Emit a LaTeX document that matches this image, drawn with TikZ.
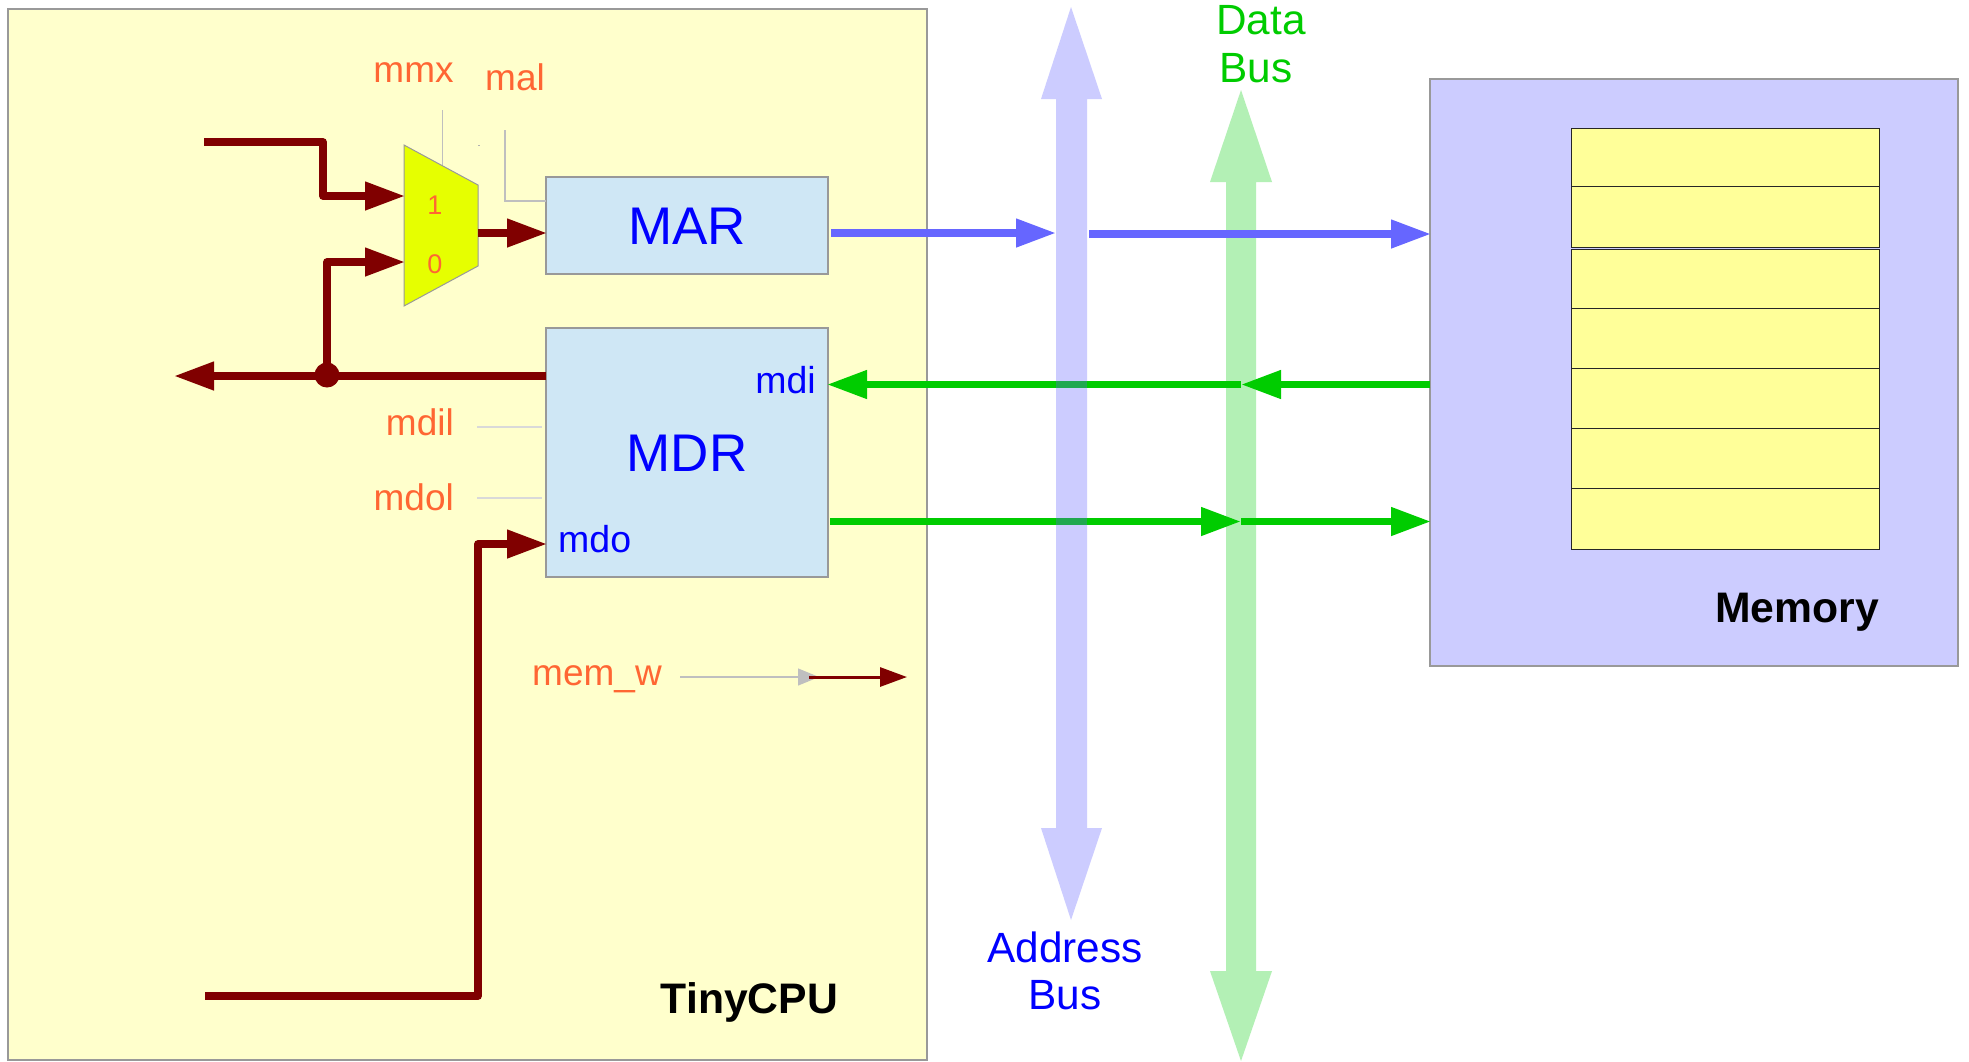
\documentclass[tikz,border=0pt]{standalone}
\usepackage{fontspec}
\setmainfont{Liberation Sans}
\usetikzlibrary{arrows.meta}
\definecolor{cpufill}{HTML}{FFFFCC}
\definecolor{regfill}{HTML}{CFE7F5}
\definecolor{wire}{HTML}{800000}
\definecolor{ctl}{HTML}{FF6633}
\definecolor{busblue}{HTML}{CCCCFF}
\definecolor{busgreen}{HTML}{B3F0B5}
\definecolor{lineblue}{HTML}{6666FF}
\definecolor{linegreen}{HTML}{00CC00}
\definecolor{linecross}{HTML}{20A850}
\definecolor{cellfill}{HTML}{FFFF99}
\definecolor{muxfill}{HTML}{E6FF00}
\tikzset{
  x=1pt,y=-1pt,
  frame/.style={draw=black!40,line width=1.3pt,fill=#1,inner sep=0pt,outer sep=0pt,anchor=north west},
  wirearrow/.style={draw=wire,line width=7.5pt,line join=round,-{Triangle[length=40pt,width=27pt]}},
  bluearrow/.style={draw=lineblue,line width=7.5pt,-{Triangle[length=40pt,width=27pt]}},
  greenarrow/.style={draw=linegreen,line width=7.5pt,-{Triangle[length=40pt,width=27pt]}},
  ctlline/.style={draw=black!25,line width=1.2pt},
  ctllabel/.style={text=ctl,font=\fontsize{37}{37}\selectfont,inner sep=0pt},
  reglabel/.style={text=blue,font=\fontsize{53}{53}\selectfont,inner sep=0pt},
  portlabel/.style={text=blue,font=\fontsize{37.5}{37.5}\selectfont,inner sep=0pt},
  titlelabel/.style={text=black,font=\bfseries\fontsize{42.7}{42.7}\selectfont,inner sep=0pt},
  buslabel/.style={font=\fontsize{42.3}{47}\selectfont,inner sep=0pt,align=center},
  muxlabel/.style={text=ctl,font=\fontsize{27}{27}\selectfont,inner sep=0pt},
  cell/.style={draw=black!85,line width=1pt,fill=cellfill,inner sep=0pt,outer sep=0pt,anchor=north west,minimum width=308pt},
}
\begin{document}
\begin{tikzpicture}
\useasboundingbox (0,0) rectangle (1969,1061);
\fill[white] (0,0) rectangle (1969,1061);
% containers
\node[frame=cpufill,minimum width=919pt,minimum height=1051pt] (cpu) at (8,9) {};
\node[frame=busblue,minimum width=528pt,minimum height=587pt] (mem) at (1430,79) {};
% memory cells
\node[cell,minimum height=58.6pt] (c1) at (1571,128) {};
\node[cell,minimum height=60.7pt] (c2) at (1571,186.6) {};
\node[cell,minimum height=58.6pt] (c3) at (1571,249.4) {};
\node[cell,minimum height=60pt] (c4) at (1571,308) {};
\node[cell,minimum height=60pt] (c5) at (1571,368) {};
\node[cell,minimum height=60.7pt] (c6) at (1571,428) {};
\node[cell,minimum height=60.7pt] (c7) at (1571,488.7) {};
% buses
\fill[busblue] (1071,7) -- (1102,99) -- (1087,99) -- (1087,828) -- (1102,828) -- (1071,920) -- (1041,828) -- (1056,828) -- (1056,99) -- (1041,99) -- cycle;
\fill[busgreen] (1241,90) -- (1272,182) -- (1256,182) -- (1256,971) -- (1272,971) -- (1241,1061) -- (1210,971) -- (1226,971) -- (1226,182) -- (1210,182) -- cycle;
% registers
\node[frame=regfill,minimum width=282pt,minimum height=97pt] (mar) at (546,177) {};
\node[frame=regfill,minimum width=282pt,minimum height=249pt] (mdr) at (546,328) {};
\node[reglabel] (martext) at (687,226) {MAR};
\node[reglabel] (mdrtext) at (687,453) {MDR};
\node[portlabel,anchor=base east] (mdi) at (816,393) {mdi};
\node[portlabel,anchor=base west] (mdo) at (558,552) {mdo};
% mux
\draw[draw=black!40,line width=1pt,fill=muxfill] (404,145) -- (478,185) -- (478,266) -- (404,306) -- cycle;
\coordinate (muxa) at (405,196);
\coordinate (muxb) at (405,262);
\coordinate (muxo) at (478,233);
\node[muxlabel] (m1) at (435,205) {1};
\node[muxlabel] (m0) at (435,264) {0};
% control lines
\node[ctllabel,anchor=base] (mmx) at (413.5,82) {mmx};
\node[ctllabel,anchor=base] (mal) at (515,90) {mal};
\node[ctllabel,anchor=base east] (mdil) at (454,435) {mdil};
\node[ctllabel,anchor=base east] (mdol) at (454,510) {mdol};
\node[ctllabel,anchor=base] (memw) at (597,685) {mem\_w};
\coordinate (mmxa) at (442.5,110);
\coordinate (mmxb) at (442.5,165);
\coordinate (mala) at (505,130);
\coordinate (malb) at (546,201);
\draw[ctlline] (mmxa) -- (mmxb);
\draw[ctlline] (mala) |- (malb);
\fill[black!30] (478,144.5) rectangle (480,145.5);
\coordinate (da) at (477,427);
\coordinate (db) at (542,427);
\coordinate (ea) at (477,498);
\coordinate (eb) at (542,498);
\draw[ctlline,black!15,line width=1.6pt] (da) -- (db);
\draw[ctlline,black!15,line width=1.6pt] (ea) -- (eb);
\coordinate (wa) at (680,677);
\coordinate (wb) at (819,677);
\coordinate (wc) at (809,677);
\coordinate (wd) at (907,677);
\draw[ctlline,-{Triangle[length=21pt,width=17pt]}] (wa) -- (wb);
\draw[draw=wire,line width=3pt,-{Triangle[length=27pt,width=19pt]}] (wc) -- (wd);
% maroon wires
\coordinate (ta) at (204,142);
\coordinate (tb) at (323,142);
\coordinate (tc) at (323,196);
\draw[wirearrow] (ta) -- (tb) -- (tc) -- (muxa);
\node[circle,fill=wire,minimum size=25pt,inner sep=0pt] (jn) at (327,375) {};
\coordinate (jt) at (327,262);
\draw[wirearrow] (jn.center) -- (jt) -- (muxb);
\coordinate (mart) at (547,233);
\draw[wirearrow] (muxo) -- (mart);
\coordinate (la) at (174,376);
\coordinate (lb) at (546,376);
\draw[wirearrow] (lb) -- (la);
\coordinate (ba) at (205,996);
\coordinate (bb) at (478,996);
\coordinate (bc) at (478,544);
\coordinate (bd) at (547,544);
\draw[wirearrow] (ba) -- (bb) -- (bc) -- (bd);
% blue lines
\coordinate (ab1) at (831,233);
\coordinate (ab2) at (1056,233);
\coordinate (ab3) at (1089,234);
\coordinate (ab4) at (1431,234);
\draw[bluearrow] (ab1) -- (ab2);
\draw[bluearrow] (ab3) -- (ab4);
% green lines
\coordinate (g1) at (1430,384.5);
\coordinate (g2) at (1241,384.5);
\coordinate (g3) at (827,384.5);
\coordinate (g4) at (830,521.5);
\coordinate (g5) at (1241,521.5);
\coordinate (g6) at (1431,521.5);
\draw[greenarrow] (g1) -- (g2);
\draw[greenarrow] (g2) -- (g3);
\draw[greenarrow] (g4) -- (g5);
\draw[greenarrow] (g5) -- (g6);
\fill[linecross] (1056,380.75) rectangle (1087,388.25);
\fill[linecross] (1056,517.75) rectangle (1087,525.25);
% labels
\node[buslabel,text=blue] (abus) at (1065,971) {Address\\Bus};
\node[buslabel,text=linegreen,anchor=base] (dbus1) at (1261,34) {Data};
\node[buslabel,text=linegreen,anchor=base] (dbus2) at (1256,82) {Bus};
\node[titlelabel] (tiny) at (749.5,1002) {TinyCPU};
\node[titlelabel] (memt) at (1797,612) {Memory};
\end{tikzpicture}
\end{document}
